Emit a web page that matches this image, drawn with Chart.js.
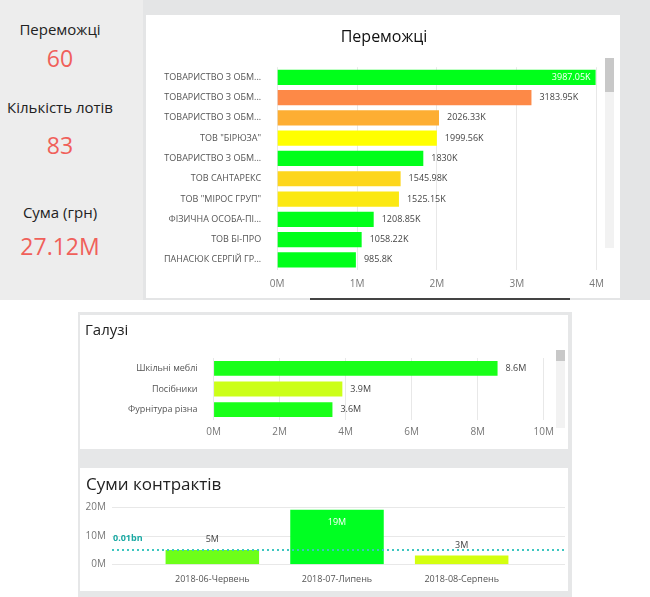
<!DOCTYPE html>
<html><head><meta charset="utf-8">
<script src="https://cdn.jsdelivr.net/npm/chart.js@4"></script>
<style>
body{margin:0;width:650px;height:597px;position:relative;overflow:hidden;background:#fff;font-family:"Open Sans",sans-serif}
.abs{position:absolute}
.kpi{position:absolute;left:0;width:120px;text-align:center}
.lbl{font-size:15px;color:#222}
.val{font-size:23px;color:#f0605a}
</style></head><body>
<div class="abs" style="left:0;top:0;width:650px;height:300px;background:#e4e5e6"></div>
<div class="abs" style="left:0;top:0;width:143px;height:300px;background:#ededed"></div>
<div class="abs" style="left:146px;top:15px;width:474px;height:283px;background:#fff"></div>
<div class="abs" style="left:310px;top:298px;width:260px;height:2px;background:#444"></div>
<div class="abs" style="left:78px;top:312px;width:494px;height:285px;background:#e6e7e8"></div>
<div class="abs" style="left:80px;top:315px;width:488px;height:134px;background:#fff"></div>
<div class="abs" style="left:80px;top:468px;width:488px;height:123px;background:#fff"></div>

<div class="kpi lbl" style="top:19px">Переможці</div>
<div class="kpi val" style="top:42px">60</div>
<div class="kpi lbl" style="top:97px">Кількість лотів</div>
<div class="kpi val" style="top:129px">83</div>
<div class="kpi lbl" style="top:202px">Сума (грн)</div>
<div class="kpi val" style="top:230px">27.12M</div>

<canvas id="c1" class="abs" style="left:150px;top:18px" width="462" height="280"></canvas>
<div class="abs" style="left:605px;top:58px;width:9px;height:190px;background:#f2f2f2"></div>
<div class="abs" style="left:605px;top:58px;width:9px;height:34px;background:#c8c8c8"></div>
<canvas id="c2" class="abs" style="left:82px;top:318px" width="478" height="126"></canvas>
<div class="abs" style="left:556px;top:350px;width:9px;height:78px;background:#f2f2f2"></div>
<div class="abs" style="left:556px;top:350px;width:9px;height:11px;background:#c8c8c8"></div>
<div class="abs" style="left:85px;top:319px;font-size:15px;color:#222">Галузі</div>
<canvas id="c3" class="abs" style="left:82px;top:470px" width="484" height="117"></canvas>
<div class="abs" style="left:86px;top:472px;font-size:17px;color:#222">Суми контрактів</div>

<script>
const winners=['ТОВАРИСТВО З ОБМ...','ТОВАРИСТВО З ОБМ...','ТОВАРИСТВО З ОБМ...','ТОВ "БІРЮЗА"','ТОВАРИСТВО З ОБМ...','ТОВ САНТАРЕКС','ТОВ "МІРОС ГРУП"','ФІЗИЧНА ОСОБА-ПІ...','ТОВ БІ-ПРО','ПАНАСЮК СЕРГІЙ ГР...'];
const winnerValues=[3987.05,3183.95,2026.33,1999.56,1830,1545.98,1525.15,1208.85,1058.22,985.8];
const winnerColors=['#00ff1a','#fd8947','#fdae33','#ffff00','#00ff1a','#fdd61c','#fbe812','#00ff1a','#00ff1a','#00ff1a'];
const industries=['Шкільні меблі','Посібники','Фурнітура різна'];
const industryValues=[8.6,3.9,3.6];
const industryColors=['#19ff19','#ccff19','#19ff19'];
const months=['2018-06-Червень','2018-07-Липень','2018-08-Серпень'];
const monthValues=[5,19,3];
const monthColors=['#6dff19','#00ff22','#d4ff0f'];
const refLine=5;
const F='"Open Sans", sans-serif';

const labelPlugin={id:'vl',afterDatasetsDraw(ch,a,opt){
  const ctx=ch.ctx;const ds=ch.data.datasets[0];const meta=ch.getDatasetMeta(0);
  ctx.save();ctx.font='9px '+F;
  meta.data.forEach((el,i)=>{
    const t=opt.fmt(ds.data[i]);const horiz=ch.options.indexAxis==='y';
    if(horiz){
      ctx.textBaseline='middle';
      const w=ctx.measureText(t).width;
      if(el.x+8+w>ch.chartArea.right){ctx.fillStyle='#fff';ctx.textAlign='right';ctx.fillText(t,el.x-5,el.y);}
      else{ctx.fillStyle='#444';ctx.textAlign='left';ctx.fillText(t,el.x+8,el.y);}
    }else{
      ctx.textAlign='center';
      if(el.base-el.y>40){ctx.fillStyle='#fff';ctx.textBaseline='top';ctx.fillText(t,el.x,el.y+8);}
      else{ctx.fillStyle='#444';ctx.textBaseline='bottom';ctx.fillText(t,el.x,el.y-6);}
    }
  });ctx.restore();}};

const gridPlugin={id:'wg',beforeDatasetsDraw(ch){
  const ctx=ch.ctx;const s=ch.scales.y;ctx.save();ctx.strokeStyle='#e8e8e8';ctx.lineWidth=1;
  ctx.fillStyle='#777';ctx.font='10px '+F;ctx.textAlign='right';ctx.textBaseline='middle';
  s.ticks.forEach(t=>{const y=Math.round(s.getPixelForValue(t.value))+0.5;ctx.beginPath();ctx.moveTo(30,y);ctx.lineTo(483,y);ctx.stroke();
    ctx.fillText(t.value+'M',24,y);});
  ctx.restore();}};

const refPlugin={id:'ref',afterDatasetsDraw(ch){
  const ctx=ch.ctx;const y=ch.scales.y.getPixelForValue(refLine);
  ctx.save();ctx.strokeStyle='#3cc6c0';ctx.lineWidth=2;ctx.setLineDash([2,3]);
  ctx.beginPath();ctx.moveTo(30,y);ctx.lineTo(483,y);ctx.stroke();
  ctx.fillStyle='#1aa9a3';ctx.font='bold 9px '+F;ctx.textBaseline='bottom';ctx.textAlign='left';
  ctx.fillText('0.01bn',31,y-7);ctx.restore();}};

Chart.defaults.font.family=F;Chart.defaults.color='#666';

new Chart(document.getElementById('c1'),{type:'bar',
 data:{labels:winners,datasets:[{data:winnerValues,backgroundColor:winnerColors,barPercentage:0.75,categoryPercentage:1}]},
 options:{indexAxis:'y',responsive:false,animation:false,
  layout:{padding:{left:6,right:0,bottom:0,top:6}},
  plugins:{legend:{display:false},tooltip:{enabled:false},
   title:{display:true,text:'Переможці',color:'#111',font:{size:16,weight:'normal'},padding:{top:4,bottom:20}},
   vl:{fmt:v=>v+'K'}},
  scales:{x:{min:0,max:4000,ticks:{stepSize:1000,callback:v=>v/1000+'M',font:{size:10},color:'#777',padding:8},grid:{color:'#e8e8e8',drawTicks:false},border:{display:false}},
   y:{ticks:{font:{size:9},color:'#555',padding:8},grid:{display:false},border:{display:false}}}},
 plugins:[labelPlugin]});

new Chart(document.getElementById('c2'),{type:'bar',
 data:{labels:industries,datasets:[{data:industryValues,backgroundColor:industryColors,barPercentage:0.72,categoryPercentage:1}]},
 options:{indexAxis:'y',responsive:false,animation:false,
  layout:{padding:{left:38,right:0,top:40,bottom:0}},
  plugins:{legend:{display:false},tooltip:{enabled:false},vl:{fmt:v=>v+'M'}},
  scales:{x:{min:0,max:10,ticks:{stepSize:2,callback:v=>v+'M',font:{size:10},color:'#777',padding:6},grid:{color:'#e8e8e8',drawTicks:false},border:{display:false}},
   y:{ticks:{font:{size:9},color:'#555',padding:8},grid:{display:false},border:{display:false}}}},
 plugins:[labelPlugin]});

new Chart(document.getElementById('c3'),{type:'bar',
 data:{labels:months,datasets:[{data:monthValues,backgroundColor:monthColors,barPercentage:0.75,categoryPercentage:1}]},
 options:{responsive:false,animation:false,
  layout:{padding:{left:60,right:42,top:37,bottom:0}},
  plugins:{legend:{display:false},tooltip:{enabled:false},vl:{fmt:v=>v+'M'}},
  scales:{y:{min:0,max:20,ticks:{stepSize:10,display:false},grid:{display:false},border:{display:false}},
   x:{ticks:{font:{size:9},color:'#555',padding:2},grid:{display:false},border:{display:false}}}},
 plugins:[gridPlugin,labelPlugin,refPlugin]});
</script></body></html>
